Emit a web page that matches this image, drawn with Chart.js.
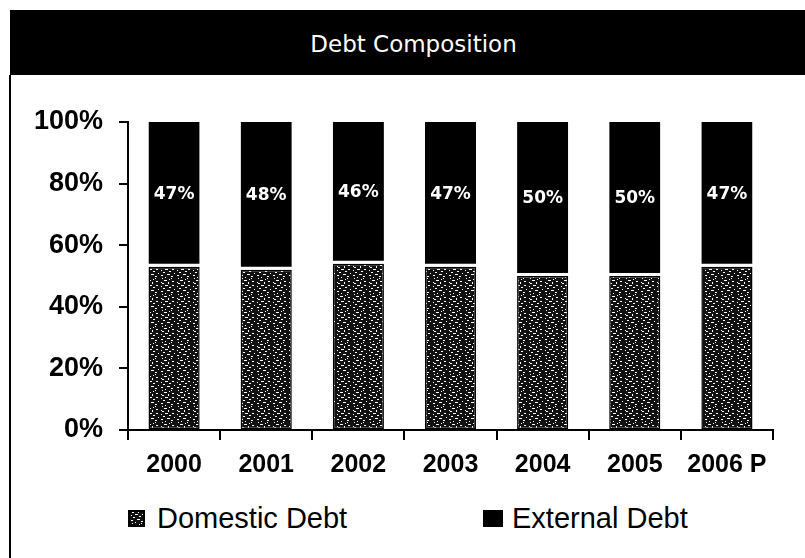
<!DOCTYPE html>
<html>
<head>
<meta charset="utf-8">
<script src="https://cdn.jsdelivr.net/npm/chart.js@4"></script>
<style>
  body { margin: 0; width: 805px; height: 558px; background: #fff; position: relative; overflow: hidden; }
  #title { position: absolute; left: 10px; top: 10px; width: 795px; height: 65px; background: #000;
           color: #fff; font: 23px "DejaVu Sans", sans-serif; text-align: center; line-height: 65px;
           box-sizing: border-box; padding-left: 12px; padding-top: 2px; }
  #edge { position: absolute; left: 9px; top: 75px; width: 2px; height: 483px; background: #000; }
  #wrap { position: absolute; left: 0; top: 75px; width: 805px; height: 400px; }
  .lg-box { position: absolute; top: 510px; height: 17px; box-sizing: border-box; }
  .lg-text { position: absolute; top: 504px; font: 29px "Liberation Sans", Arial, sans-serif; line-height: 29px; color: #000; white-space: nowrap; }
</style>
</head>
<body>
<div id="title">Debt Composition</div>
<div id="edge"></div>
<div id="wrap"><canvas id="debt" width="805" height="400"></canvas></div>
<div class="lg-box" id="domBox" style="left:128px;width:17px;border:2px solid #000;"></div>
<div class="lg-text" style="left:157px;">Domestic Debt</div>
<div class="lg-box" style="left:483px;width:20px;background:#000;"></div>
<div class="lg-text" style="left:512px;">External Debt</div>

<script>
// Debt composition, share of total (%)
const years = ["2000", "2001", "2002", "2003", "2004", "2005", "2006 P"];
const domesticShare = [53, 52, 54, 53, 50, 50, 53];
const externalShare = [47, 48, 46, 47, 50, 50, 47];
const yTicks = [0, 20, 40, 60, 80, 100];

// speckled fill for the domestic bars
const tileRows = [
    "##..####.#######",
    "################",
    "#####...####..##",
    "#.##############",
    "#########..#####",
    "###..###########",
    "##############.#",
    "#######...######",
    "#..#############",
    "###########..###",
    "#####.##########",
    "##.########.####",
    "#########.######",
    "####...#########",
    "############..##",
    "#.######.#######"
];
const tile = document.createElement("canvas");
tile.width = 16;
tile.height = 16;
const tctx = tile.getContext("2d");
tctx.fillStyle = "#111";
tctx.fillRect(0, 0, 16, 16);
tctx.fillStyle = "#fff";
tileRows.forEach((row, y) => {
    [...row].forEach((c, x) => { if (c === ".") tctx.fillRect(x, y, 1, 1); });
});
const ctx = document.getElementById("debt").getContext("2d");
const speckle = ctx.createPattern(tile, "repeat");
document.getElementById("domBox").style.background = "url(" + tile.toDataURL() + ")";

const barLabels = {
    id: "barLabels",
    afterDatasetsDraw(chart) {
        const c = chart.ctx;
        c.save();
        c.fillStyle = "#fff";
        c.font = "bold 17px 'DejaVu Sans'";
        c.textAlign = "center";
        c.textBaseline = "middle";
        chart.getDatasetMeta(1).data.forEach((bar, i) => {
            const p = bar.getCenterPoint();
            c.fillText(externalShare[i] + "%", p.x, p.y);
        });
        c.restore();
    }
};

new Chart(ctx, {
    type: "bar",
    data: {
        labels: years,
        datasets: [
            {
                label: "Domestic Debt",
                data: domesticShare,
                backgroundColor: speckle,
                borderColor: "#000",
                borderWidth: 1.5,
                borderSkipped: false,
                categoryPercentage: 1,
                barPercentage: 0.555
            },
            {
                label: "External Debt",
                data: externalShare,
                backgroundColor: "#000",
                borderColor: "#fff",
                borderWidth: { top: 0, left: 0, right: 0, bottom: 3 },
                borderSkipped: false,
                categoryPercentage: 1,
                barPercentage: 0.555
            }
        ]
    },
    options: {
        responsive: false,
        animation: false,
        layout: { padding: { top: 47, right: 32, left: 0, bottom: 0 } },
        plugins: {
            legend: { display: false },
            tooltip: { enabled: false }
        },
        scales: {
            x: {
                stacked: true,
                grid: { drawOnChartArea: false, tickLength: 10, color: "#000", lineWidth: 2, offset: true },
                border: { color: "#000", width: 2 },
                ticks: {
                    color: "#000",
                    font: { family: "'Liberation Sans', Arial", size: 25, weight: "bold" },
                    padding: 10,
                    maxRotation: 0,
                    autoSkip: false
                },
                afterFit: s => { s.height = 45; }
            },
            y: {
                stacked: true,
                min: 0,
                max: 100,
                afterBuildTicks: s => { s.ticks = yTicks.map(v => ({ value: v })); },
                grid: { drawOnChartArea: false, tickLength: 9, color: "#000", lineWidth: 2 },
                border: { color: "#000", width: 2 },
                ticks: {
                    color: "#000",
                    font: { family: "'Liberation Sans', Arial", size: 27, weight: "bold" },
                    padding: 16,
                    callback: v => v + "%"
                },
                afterFit: s => { s.width = 128; }
            }
        }
    },
    plugins: [barLabels]
});
</script>
</body>
</html>
